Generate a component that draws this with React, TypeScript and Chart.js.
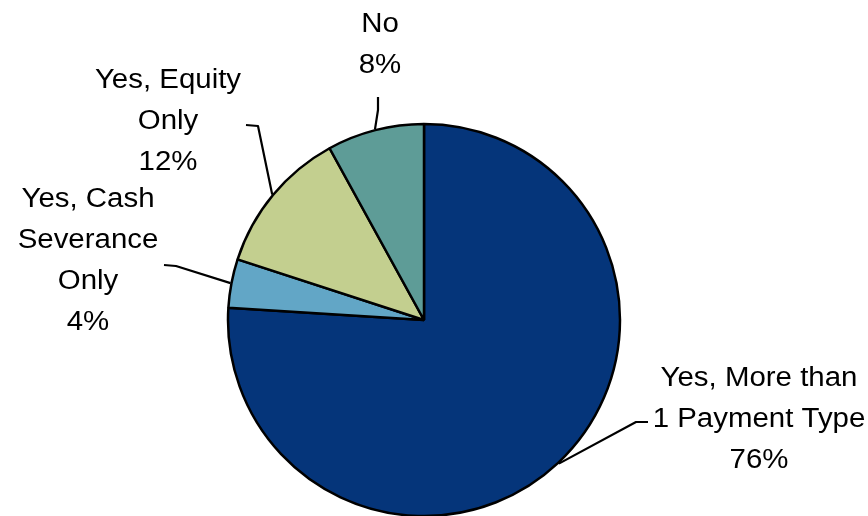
import React, { useEffect, useRef } from "react";
import { Chart, registerables } from "chart.js";

Chart.register(...registerables);

const categories = [
  "Yes, More than 1 Payment Type",
  "Yes, Cash Severance Only",
  "Yes, Equity Only",
  "No",
];
const values = [76, 4, 12, 8];
const labelLines = [
  ["Yes, More than", "1 Payment Type"],
  ["Yes, Cash", "Severance", "Only"],
  ["Yes, Equity", "Only"],
  ["No"],
];
const colors = ["#05357A", "#62A6C6", "#C3CF8F", "#5E9C97"];

// label layout: elbow point, leader end, label center x, first baseline y
const labelLayout = [
  { elbow: [636, 422], end: [648, 422], cx: 759, by: 386 },
  { elbow: [176, 266], end: [164, 265], cx: 88, by: 207 },
  { elbow: [258, 126], end: [246, 125], cx: 168, by: 88 },
  { elbow: [378, 110], end: [378, 97], cx: 380, by: 32 },
];

const FONT_SIZE = 27;
const LINE_H = 41;
const X_SCALE = 1.09;

const labelPlugin = {
  id: "pieLabels",
  afterDraw(chart: any) {
    const ctx = chart.ctx;
    const meta = chart.getDatasetMeta(0);
    ctx.save();
    meta.data.forEach((arc: any, i: number) => {
      const { x, y, startAngle, endAngle, outerRadius } = arc.getProps(
        ["x", "y", "startAngle", "endAngle", "outerRadius"],
        true
      );
      const mid = (startAngle + endAngle) / 2;
      const sx = x + Math.cos(mid) * (outerRadius + 1);
      const sy = y + Math.sin(mid) * (outerRadius + 1);
      const L = labelLayout[i];
      ctx.strokeStyle = "#000";
      ctx.lineWidth = 2.2;
      ctx.lineJoin = "round";
      ctx.beginPath();
      ctx.moveTo(sx, sy);
      ctx.lineTo(L.elbow[0], L.elbow[1]);
      ctx.lineTo(L.end[0], L.end[1]);
      ctx.stroke();

      const lines = [...labelLines[i], `${values[i]}%`];
      ctx.fillStyle = "#000";
      ctx.font = `${FONT_SIZE}px "Liberation Sans", Arial, sans-serif`;
      ctx.textAlign = "center";
      ctx.textBaseline = "alphabetic";
      lines.forEach((t, k) => {
        ctx.save();
        ctx.translate(L.cx, L.by + k * LINE_H);
        ctx.scale(X_SCALE, 1);
        ctx.fillText(t, 0, 0);
        ctx.restore();
      });
    });
    ctx.restore();
  },
};

export default function App() {
  const ref = useRef<HTMLCanvasElement>(null);
  useEffect(() => {
    if (!ref.current) return;
    const chart = new Chart(ref.current, {
      type: "pie",
      data: {
        labels: categories,
        datasets: [
          {
            data: values,
            backgroundColor: colors,
            borderColor: "#000",
            borderWidth: 2.5,
          },
        ],
      },
      options: {
        responsive: false,
        animation: false,
        radius: 196,
        layout: { padding: { top: 124, right: 20, bottom: 0, left: 0 } },
        plugins: {
          legend: { display: false },
          tooltip: { enabled: false },
        },
      } as any,
      plugins: [labelPlugin],
    });
    return () => chart.destroy();
  }, []);
  return (
    <div style={{ position: "absolute", left: 0, top: 0, width: 868, height: 516, overflow: "hidden", background: "#fff" }}>
      <canvas ref={ref} width={868} height={516} style={{ display: "block" }} />
    </div>
  );
}
